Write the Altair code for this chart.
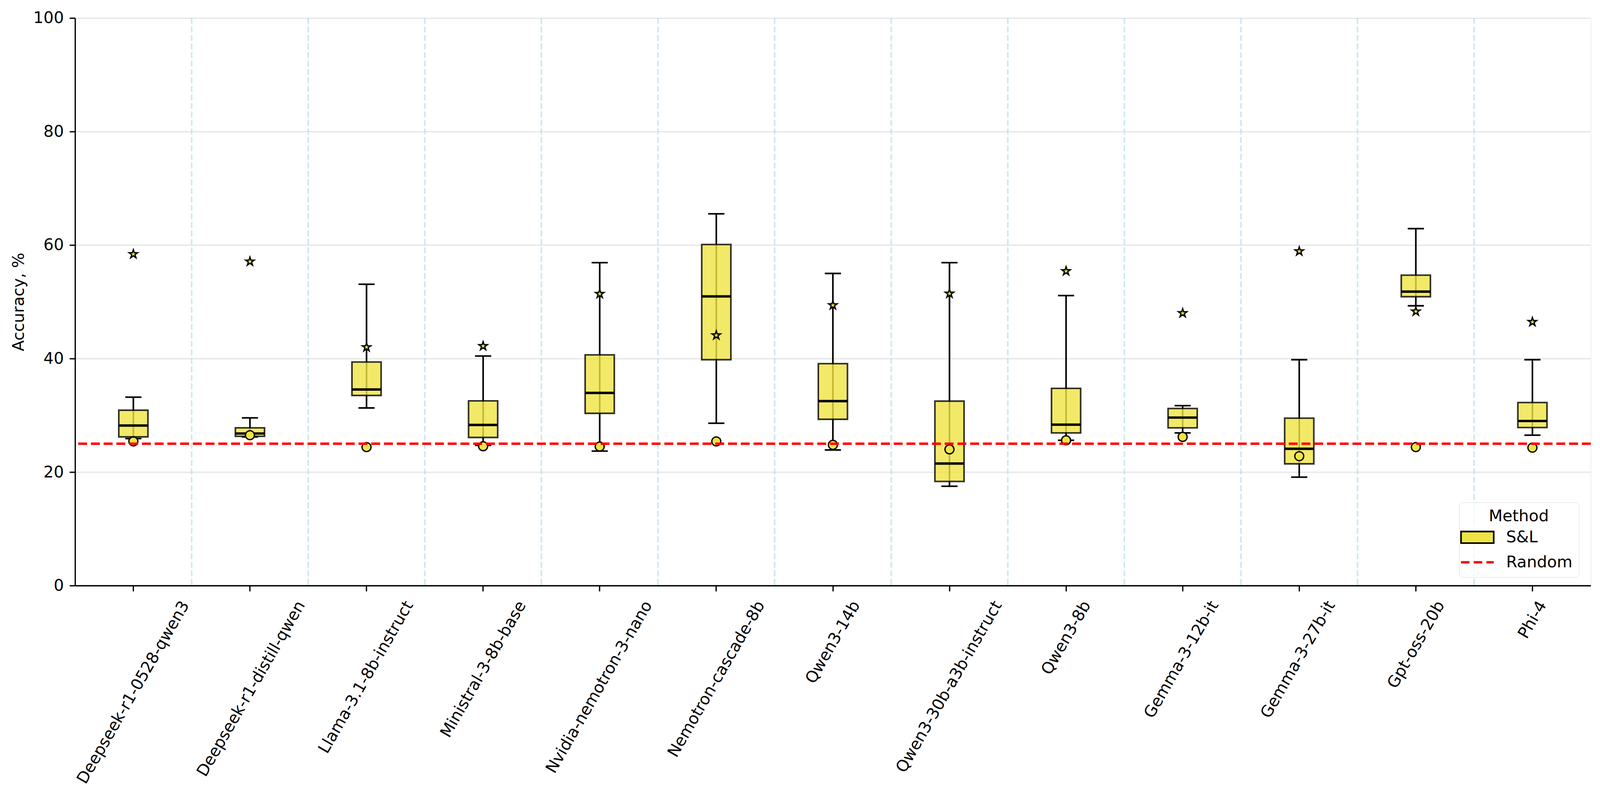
import math
import altair as alt
import pandas as pd

# ---------------- data ----------------
models = [
    "Deepseek-r1-0528-qwen3", "Deepseek-r1-distill-qwen", "Llama-3.1-8b-instruct",
    "Ministral-3-8b-base", "Nvidia-nemotron-3-nano", "Nemotron-cascade-8b",
    "Qwen3-14b", "Qwen3-30b-a3b-instruct", "Qwen3-8b", "Gemma-3-12b-it",
    "Gemma-3-27b-it", "Gpt-oss-20b", "Phi-4",
]
whisker_low = [25.9, 26.2, 31.3, 24.7, 23.7, 28.6, 23.9, 17.5, 25.6, 26.9, 19.1, 49.3, 26.5]
q1 = [26.2, 26.3, 33.5, 26.1, 30.35, 39.8, 29.3, 18.35, 26.9, 27.8, 21.45, 50.9, 27.85]
median = [28.2, 26.8, 34.55, 28.3, 33.95, 50.95, 32.5, 21.5, 28.35, 29.6, 24.1, 51.8, 29.0]
q3 = [30.9, 27.8, 39.4, 32.55, 40.65, 60.1, 39.1, 32.5, 34.75, 31.2, 29.5, 54.7, 32.25]
whisker_high = [33.2, 29.55, 53.1, 40.45, 56.9, 65.5, 55.0, 56.9, 51.1, 31.7, 39.8, 62.9, 39.8]
circle_vals = [25.4, 26.5, 24.4, 24.55, 24.5, 25.4, 24.8, 24.0, 25.6, 26.2, 22.8, 24.4, 24.3]
star_vals = [58.4, 57.1, 42.0, 42.2, 51.4, 44.1, 49.4, 51.45, 55.4, 48.0, 58.9, 48.3, 46.45]
random_level = [25]
legend_methods = ["S&L", "Random"]
y_ticks = [0, 20, 40, 60, 80, 100]

box_df = pd.DataFrame({
    "model": models, "lo": whisker_low, "q1": q1, "med": median,
    "q3": q3, "hi": whisker_high, "circ": circle_vals, "star": star_vals,
})
sep_df = pd.DataFrame({"model": models[:-1]})
rand_df = pd.DataFrame({"method": ["Random"], "y": random_level})
legend_df = pd.DataFrame({"method": legend_methods})

# ---------------- styling ----------------
PX = 300 / 72.0           # pixels per point
FS = 10 * PX              # 10 pt font
FONT = "DejaVu Sans"
W, H = 3940, 1475
BAND = W / len(models)
YELLOW = "#F0E442"

pts = []
for k in range(10):
    ang = math.radians(-90 + 36 * k)
    r = 1.0 if k % 2 == 0 else 0.382
    pts.append((r * math.cos(ang), r * math.sin(ang)))
STAR = "M" + "L".join(f"{x:.4f},{y:.4f}" for x, y in pts) + "Z"
RECT = "M-2.833,-1H2.833V1H-2.833Z"
LINE = "M-2.833,0H2.833"

x_scale = alt.Scale(domain=models, paddingInner=0, paddingOuter=0)
y_scale = alt.Scale(domain=[0, 100], nice=False)


def text_len(lab):
    narrow = f"(length({lab}) - length(replace({lab}, /[ijlftr.-]/g, '')))"
    wide = f"(length({lab}) - length(replace({lab}, /[mwMQDGN]/g, '')))"
    return f"(25.8*length({lab}) - 12*{narrow} + 10*{wide})"


def build(variant, note=None):
    x_axis = alt.Axis(
        labels=False, tickSize=3.5 * PX, tickWidth=0.8 * PX, tickColor="black",
        domainColor="black", domainWidth=0.8 * PX, grid=False,
    )
    y_axis = alt.Axis(
        values=y_ticks, labelFontSize=FS, labelFont=FONT, labelColor="black",
        labelPadding=15, tickSize=3.5 * PX, tickWidth=0.8 * PX, tickColor="black",
        domainColor="black", domainWidth=0.8 * PX,
        grid=True, gridColor="#e6e6e6", gridWidth=0.8 * PX,
        titleFontSize=FS, titleFont=FONT, titleFontWeight="normal",
        titleColor="black", titlePadding=16,
    )

    def X(**kw):
        return alt.X("model:N", scale=x_scale, sort=models, axis=x_axis, title=None, **kw)

    def Y(field):
        return alt.Y(f"{field}:Q", scale=y_scale, axis=y_axis, title="Accuracy, %")

    base = alt.Chart(box_df)

    seps = alt.Chart(sep_df).mark_rule(
        stroke="#ADD8E6", strokeOpacity=0.6, strokeWidth=1.0 * PX,
        strokeDash=[3.7 * PX, 1.6 * PX],
    ).encode(x=X(bandPosition=1))
    whiskers = base.mark_rule(color="black", strokeWidth=1.0 * PX).encode(
        x=X(), y=Y("lo"), y2="hi")
    cap_lo = base.mark_tick(color="black", size=0.125 * BAND + PX, thickness=1.0 * PX,
                            opacity=1).encode(x=X(), y=Y("lo"))
    cap_hi = base.mark_tick(color="black", size=0.125 * BAND + PX, thickness=1.0 * PX,
                            opacity=1).encode(x=X(), y=Y("hi"))
    boxes = base.mark_bar(
        size=0.25 * BAND, fill=YELLOW, fillOpacity=0.8, stroke="black",
        strokeOpacity=0.8, strokeWidth=1.0 * PX,
    ).encode(x=X(), y=Y("q1"), y2="q3")
    medians = base.mark_tick(color="black", size=0.25 * BAND, thickness=1.5 * PX,
                             opacity=1).encode(x=X(), y=Y("med"))
    circles = base.mark_point(
        shape="circle", filled=True, fill=YELLOW, stroke="black",
        strokeWidth=0.8 * PX, size=547, opacity=1,
    ).encode(x=X(), y=Y("circ"))
    stars = base.mark_point(
        shape=STAR, filled=True, fill=YELLOW, stroke="black",
        strokeWidth=0.8 * PX, size=540, opacity=1,
    ).encode(x=X(), y=Y("star"))

    L = text_len("datum.model")
    labels = base.mark_text(
        angle=300, align="right", baseline="middle", fontSize=FS, font=FONT,
        color="black", dx=alt.expr(f"{L}/8"), dy=alt.expr(f"{L}*0.2165"),
    ).encode(x=X(), y=alt.value(H + 3.5 * PX + 29), text="model:N")

    leg_kw = dict(
        title="Method",
        titleFontSize=FS, titleFont=FONT, titleFontWeight="normal", titleColor="black",
        titleAnchor="middle", titlePadding=12,
        labelFontSize=FS, labelFont=FONT, labelColor="black", labelLimit=600,
        symbolSize=900, symbolOffset=10.5, labelOffset=54, rowPadding=20,
        padding=16, strokeColor="#d6d6d6", fillColor="rgba(255,255,255,0.8)",
        cornerRadius=8,
    )
    if variant == 0:
        leg_kw.update(orient="none", legendX=3598, legendY=1259)
    else:
        leg_kw.update(orient="bottom-right", offset=26)

    layers = [seps, whiskers, cap_lo, cap_hi, boxes, medians, circles, stars, labels]

    legend = alt.Legend(**leg_kw)
    enc = dict(
        fill=alt.Fill("method:N", scale=alt.Scale(domain=legend_methods, range=[YELLOW, "transparent"]),
                      legend=legend, title="Method"),
        stroke=alt.Stroke("method:N", scale=alt.Scale(domain=legend_methods, range=["black", "red"]),
                          legend=legend, title="Method"),
        shape=alt.Shape("method:N", scale=alt.Scale(domain=legend_methods, range=[RECT, LINE]),
                        legend=legend, title="Method"),
        strokeDash=alt.StrokeDash("method:N", scale=alt.Scale(domain=legend_methods, range=[[1, 0], [22, 11]]),
                                  legend=legend, title="Method"),
        strokeWidth=alt.StrokeWidth(
            "method:N", scale=alt.Scale(type="ordinal", domain=legend_methods, range=[PX, 1.5 * PX]),
            legend=legend, title="Method"),
    )
    leg_layer = alt.Chart(legend_df).transform_filter("false").mark_point(
        opacity=1, strokeWidth=PX).encode(**enc)
    random_line = alt.Chart(rand_df).mark_rule(
        color="red", strokeWidth=1.5 * PX, strokeDash=[5.55 * PX, 2.4 * PX],
    ).encode(y=Y("y"))
    layers += [random_line, leg_layer]

    props = dict(
        width=W, height=H,
        padding={"left": 187, "top": 23, "right": 16, "bottom": 544},
        autosize=alt.AutoSizeParams(type="none"),
    )
    if note:
        props["title"] = alt.TitleParams(note, fontSize=22, color="purple")
    ch = alt.layer(*layers).properties(**props).configure_view(stroke=None).configure(font=FONT)
    ch.to_dict()
    return ch


chart = None
for v in (0, 1):
    try:
        chart = build(v)
        break
    except Exception:
        continue

chart.save("out.html", embed_options={"renderer": "svg", "actions": False})
